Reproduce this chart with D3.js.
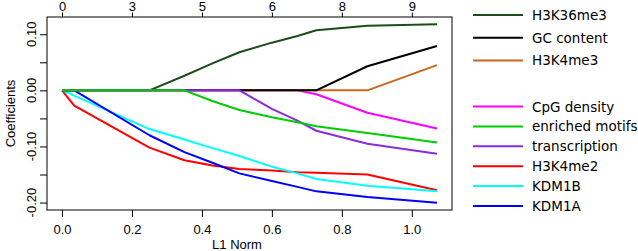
<!DOCTYPE html>
<html>
<head>
<meta charset="utf-8">
<script src="https://cdn.jsdelivr.net/npm/d3@7"></script>
<style>
  body { margin: 0; background: #fff; }
  svg { display: block; }
  .axis-text { font-family: "Liberation Sans", Arial, sans-serif; font-size: 13px; fill: #000; }
  .legend-label { font-family: "DejaVu Sans", sans-serif; font-size: 13.5px; fill: #000; }
</style>
</head>
<body>
<div id="canvas"></div>
<script>
"use strict";

/* Data: coefficient paths */
let l1Norm = [0, 0.035, 0.25, 0.35, 0.43, 0.507, 0.6, 0.673, 0.727, 0.873, 1.072];

let h3k36me3 = [0, 0, 0, 0.026, 0.048, 0.068, 0.085, 0.097, 0.107, 0.115, 0.118];
let gcContent = [0, 0, 0, 0, 0, 0, 0, 0, 0, 0.043, 0.079];
let h3k4me3 = [0, 0, 0, 0, 0, 0, 0, 0, 0, 0, 0.045];
let cpgDensity = [0, 0, 0, 0, 0, 0, 0, 0, -0.007, -0.040, -0.068];
let enrichedMotifs = [0, 0, 0, 0, -0.019, -0.035, -0.048, -0.057, -0.064, -0.076, -0.093];
let transcription = [0, 0, 0, 0, 0, 0, -0.033, -0.054, -0.072, -0.095, -0.113];
let h3k4me2 = [0, -0.027, -0.102, -0.1245, -0.134, -0.140, -0.143, -0.146, -0.147, -0.150, -0.178];
let kdm1b = [0, -0.0095, -0.069, -0.0875, -0.103, -0.117, -0.136, -0.148, -0.158, -0.170, -0.180];
let kdm1a = [0, 0, -0.080, -0.110, -0.129, -0.148, -0.1615, -0.172, -0.180, -0.190, -0.2005];

/* Axis ticks */
let xTicks = [0, 0.2, 0.4, 0.6, 0.8, 1.0];
let dfLabels = ["0", "3", "5", "6", "8", "9"];
let yTicks = [-0.20, -0.15, -0.10, -0.05, 0.00, 0.05, 0.10];
let yLabels = ["-0.20", "", "-0.10", "", "0.00", "", "0.10"];

/* Series: drawing order (bottom first) */
let series = [
  { name: "H3K4me2", values: h3k4me2, color: "#ff0000" },
  { name: "KDM1B", values: kdm1b, color: "#00ffff" },
  { name: "KDM1A", values: kdm1a, color: "#0000ff" },
  { name: "CpG density", values: cpgDensity, color: "#ff00ff" },
  { name: "H3K4me3", values: h3k4me3, color: "#cd661d" },
  { name: "GC content", values: gcContent, color: "#000000" },
  { name: "H3K36me3", values: h3k36me3, color: "#1a4d1a" },
  { name: "transcription", values: transcription, color: "#8a2be2" },
  { name: "enriched motifs", values: enrichedMotifs, color: "#00cd00" }
];

let legendTop = ["H3K36me3", "GC content", "H3K4me3"];
let legendBottom = ["CpG density", "enriched motifs", "transcription", "H3K4me2", "KDM1B", "KDM1A"];

/* Configuration variables: drawing */
let svgWidth = 638;
let svgHeight = 251;
let plotLeft = 47;
let plotRight = 452;
let plotTop = 17;
let plotBottom = 210;

let svg = d3.select("#canvas")
  .append("svg")
  .attr("width", svgWidth)
  .attr("height", svgHeight);

/* Scales, padded 4% like R */
let xExt = d3.extent(l1Norm);
let xPad = (xExt[1] - xExt[0]) * 0.04;
let allValues = series.flatMap(s => s.values);
let yExt = d3.extent(allValues);
let yPad = (yExt[1] - yExt[0]) * 0.04;

let xScale = d3.scaleLinear()
  .domain([xExt[0] - xPad, xExt[1] + xPad])
  .range([plotLeft, plotRight]);

let yScale = d3.scaleLinear()
  .domain([yExt[0] - yPad, yExt[1] + yPad])
  .range([plotBottom, plotTop]);

/* Lines */
let line = d3.line()
  .x((d, i) => xScale(l1Norm[i]))
  .y(d => yScale(d));

svg.selectAll("path.coef")
  .data(series)
  .enter()
  .append("path")
  .attr("class", "coef")
  .attr("d", d => line(d.values))
  .attr("fill", "none")
  .attr("stroke", d => d.color)
  .attr("stroke-width", 2)
  .attr("stroke-linejoin", "round");

/* Box */
svg.append("rect")
  .attr("x", plotLeft)
  .attr("y", plotTop)
  .attr("width", plotRight - plotLeft)
  .attr("height", plotBottom - plotTop)
  .attr("fill", "none")
  .attr("stroke", "black")
  .attr("stroke-width", 1);

/* Bottom axis */
let bottomAxis = svg.append("g")
  .attr("transform", "translate(0," + plotBottom + ")")
  .call(d3.axisBottom(xScale)
    .tickValues(xTicks)
    .tickSize(7)
    .tickFormat(d3.format(".1f")));
bottomAxis.select(".domain").remove();
bottomAxis.selectAll("text")
  .attr("class", "axis-text")
  .attr("y", 23.5)
  .attr("dy", null)
  .attr("font-family", null)
  .attr("font-size", null);

/* Top axis: number of nonzero coefficients */
let topAxis = svg.append("g")
  .attr("transform", "translate(0," + plotTop + ")")
  .call(d3.axisTop(xScale)
    .tickValues(xTicks)
    .tickSize(4.5)
    .tickFormat((d, i) => dfLabels[i]));
topAxis.select(".domain").remove();
topAxis.selectAll("text")
  .attr("class", "axis-text")
  .attr("y", -6.5)
  .attr("dy", null)
  .attr("font-family", null)
  .attr("font-size", null);

/* Left axis */
let leftAxis = svg.append("g")
  .attr("transform", "translate(" + plotLeft + ",0)")
  .call(d3.axisLeft(yScale)
    .tickValues(yTicks)
    .tickSize(7)
    .tickFormat(""));
leftAxis.select(".domain").remove();

yTicks.forEach((v, i) => {
  if (yLabels[i] === "") return;
  svg.append("text")
    .attr("class", "axis-text")
    .attr("transform", "translate(35.5," + yScale(v) + ") rotate(-90)")
    .attr("text-anchor", "middle")
    .text(yLabels[i]);
});

/* Axis labels */
svg.append("text")
  .attr("class", "axis-text")
  .attr("x", 237)
  .attr("y", 249)
  .attr("text-anchor", "middle")
  .text("L1 Norm");

svg.append("text")
  .attr("class", "axis-text")
  .attr("transform", "translate(14.5," + (plotTop + plotBottom) / 2 + ") rotate(-90)")
  .attr("text-anchor", "middle")
  .text("Coefficients");

/* Legend */
function drawLegend(names, startY, step) {
  names.forEach((name, i) => {
    let s = series.find(d => d.name === name);
    let yPos = startY + i * step;
    svg.append("line")
      .attr("x1", 473)
      .attr("x2", 523)
      .attr("y1", yPos)
      .attr("y2", yPos)
      .attr("stroke", s.color)
      .attr("stroke-width", 2);
    svg.append("text")
      .attr("class", "legend-label")
      .attr("x", 532)
      .attr("y", yPos + 5)
      .text(name);
  });
}

drawLegend(legendTop, 15, 22.7);
drawLegend(legendBottom, 106.5, 19.9);
</script>
</body>
</html>
